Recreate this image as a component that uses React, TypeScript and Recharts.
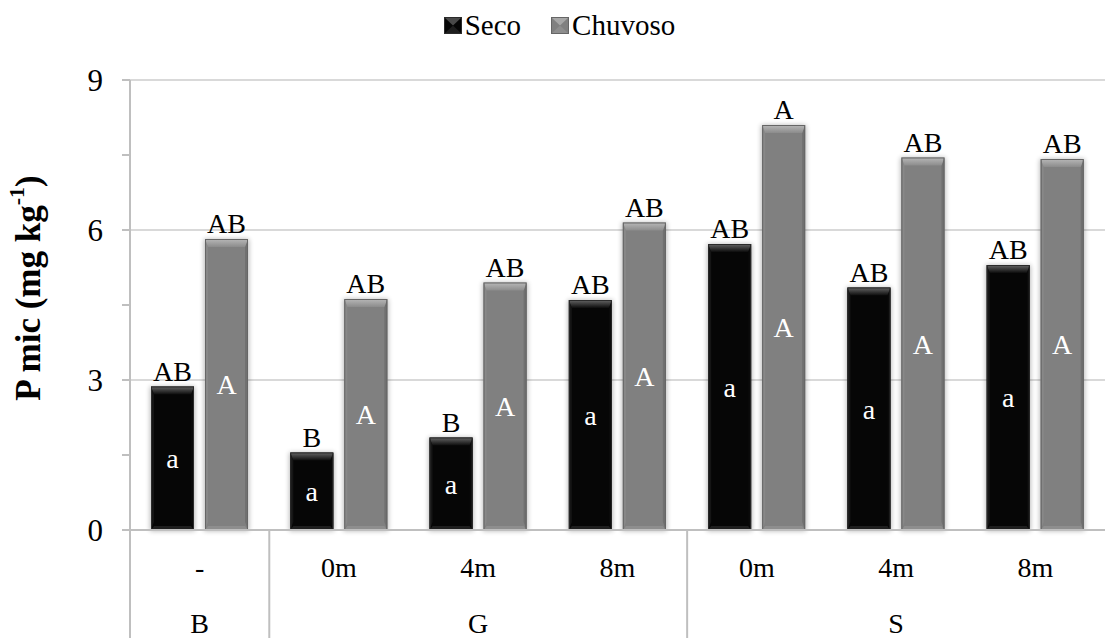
import React from 'react';
import { BarChart, Bar, XAxis, YAxis, CartesianGrid, Legend, LabelList } from 'recharts';

// categorias (sub-nível e grupo)
const subLabels = ['-', '0m', '4m', '8m', '0m', '4m', '8m'];
const groupLabels = ['B', 'G', 'G', 'G', 'S', 'S', 'S'];

// valores
const seco = [2.87, 1.55, 1.85, 4.6, 5.72, 4.85, 5.3];
const chuvoso = [5.82, 4.62, 4.95, 6.15, 8.1, 7.45, 7.42];

// letras das comparações
const secoTop = ['AB', 'B', 'B', 'AB', 'AB', 'AB', 'AB'];
const chuvosoTop = ['AB', 'AB', 'AB', 'AB', 'A', 'AB', 'AB'];
const secoIn = ['a', 'a', 'a', 'a', 'a', 'a', 'a'];
const chuvosoIn = ['A', 'A', 'A', 'A', 'A', 'A', 'A'];

const yTicks = [0, 1.5, 3, 4.5, 6, 7.5, 9];
const gridValues = [3, 6, 9];

const data = subLabels.map((s, i) => ({
  key: `${groupLabels[i]}|${s}`,
  seco: seco[i],
  chuvoso: chuvoso[i],
  secoTop: secoTop[i],
  chuvosoTop: chuvosoTop[i],
  secoIn: secoIn[i],
  chuvosoIn: chuvosoIn[i],
}));

const FONT = "'Liberation Serif', 'DejaVu Serif', 'Noto Serif', serif";
const AXIS = '#bfbfbf';

const palette: Record<string, any> = {
  seco: { base: '#060606', topA: '#666666', topB: '#0c0c0c', bottom: '#1e1e1e', left: '#151515', right: '#0a0a0a', edge: '#2b2b2b' },
  chuvoso: { base: '#808080', topA: '#b8b8b8', topB: '#8c8c8c', bottom: '#8e8e8e', left: '#888888', right: '#707070', edge: '#666666' },
};

const BevelBar = (props: any) => {
  const { x, y, width, height, dataKey } = props;
  if (!height || height <= 0) return null;
  const c = palette[dataKey];
  const b = Math.min(8, height / 2);
  const s = 3;
  const gid = `top-${dataKey}`;
  return (
    <g>
      <defs>
        <linearGradient id={gid} x1="0" y1="0" x2="0" y2="1">
          <stop offset="0%" stopColor={c.topA} />
          <stop offset="100%" stopColor={c.topB} />
        </linearGradient>
        <filter id="bshadow" x="-30%" y="-10%" width="160%" height="120%">
          <feGaussianBlur stdDeviation="2.5" />
        </filter>
      </defs>
      <rect x={x - 1} y={y} width={width + 2} height={height + 1} fill="#000" opacity={0.28} filter="url(#bshadow)" />
      <rect x={x} y={y} width={width} height={height} fill={c.base} />
      <polygon points={`${x},${y} ${x + s},${y + b} ${x + s},${y + height - b} ${x},${y + height}`} fill={c.left} />
      <polygon points={`${x + width},${y} ${x + width - s},${y + b} ${x + width - s},${y + height - b} ${x + width},${y + height}`} fill={c.right} />
      <polygon points={`${x},${y} ${x + width},${y} ${x + width - s},${y + b} ${x + s},${y + b}`} fill={`url(#${gid})`} />
      <polygon points={`${x},${y + height} ${x + width},${y + height} ${x + width - s},${y + height - b / 2} ${x + s},${y + height - b / 2}`} fill={c.bottom} />
      <rect x={x + 0.5} y={y + 0.5} width={width - 1} height={height - 1} fill="none" stroke={c.edge} strokeWidth={1} />
    </g>
  );
};

const XTick = (props: any) => {
  const { x, y, payload } = props;
  const i: number = payload.index;
  const half: number = payload.offset || 0;
  const band = half * 2;
  const g = groupLabels[i];
  const first = i === 0 || groupLabels[i - 1] !== g;
  const count = groupLabels.filter((v) => v === g).length;
  return (
    <g>
      <text x={x} y={y + 47} textAnchor="middle" fontSize={28} fill="#000" style={{ fontFamily: FONT }}>
        {subLabels[i]}
      </text>
      {first && (
        <>
          <line x1={x - half} y1={y} x2={x - half} y2={y + 120} stroke={AXIS} strokeWidth={2} />
          <text x={x - half + (count * band) / 2} y={y + 103} textAnchor="middle" fontSize={28} fill="#000" style={{ fontFamily: FONT }}>
            {g}
          </text>
        </>
      )}
    </g>
  );
};

const YTick = (props: any) => {
  const { x, y, payload } = props;
  const major = Number.isInteger(payload.value);
  return (
    <g>
      <line x1={x - 8} y1={y} x2={x} y2={y} stroke={AXIS} strokeWidth={2} />
      {major && (
        <text x={x - 27} y={y + 11} textAnchor="end" fontSize={31} fill="#000" style={{ fontFamily: FONT }}>
          {payload.value}
        </text>
      )}
    </g>
  );
};

const YLabel = (props: any) => {
  const vb = props.viewBox || { x: 0, y: 80, width: 130, height: 450 };
  const cx = vb.x + 28;
  const cy = vb.y + vb.height / 2 - 17;
  return (
    <text
      x={cx}
      y={cy}
      transform={`rotate(-90, ${cx}, ${cy})`}
      textAnchor="middle"
      dominantBaseline="central"
      fontSize={35}
      fontWeight="bold"
      style={{ fontFamily: FONT }}
      fill="#000"
    >
      P mic (mg kg<tspan dy={-12} fontSize={22}>-1</tspan>
      <tspan dy={12}>)</tspan>
    </text>
  );
};

const LegendSwatch = ({ k }: { k: string }) => {
  const c = palette[k];
  return (
    <svg width={18} height={17} style={{ marginRight: 3 }}>
      <rect x={0} y={0} width={18} height={17} fill={c.base} />
      <polygon points="0,0 18,0 9,8.5" fill={c.topA} opacity={0.7} />
      <polygon points="0,17 18,17 9,8.5" fill={c.bottom} />
      <rect x={0.5} y={0.5} width={17} height={16} fill="none" stroke={c.edge} />
    </svg>
  );
};

const LegendContent = () => (
  <div style={{ display: 'flex', justifyContent: 'center', alignItems: 'center', fontFamily: FONT, fontSize: 29, color: '#000', paddingLeft: 14 }}>
    <div style={{ display: 'flex', alignItems: 'center', marginRight: 30 }}>
      <LegendSwatch k="seco" />
      <span>Seco</span>
    </div>
    <div style={{ display: 'flex', alignItems: 'center' }}>
      <LegendSwatch k="chuvoso" />
      <span>Chuvoso</span>
    </div>
  </div>
);

export default function App() {
  return (
    <div style={{ position: 'absolute', left: 0, top: 0, width: 1105, height: 638, background: '#fff', fontFamily: FONT }}>
      <BarChart
        width={1105}
        height={638}
        data={data}
        margin={{ top: 80, right: 0, bottom: 0, left: 0 }}
        barSize={43}
        barGap={11}
        style={{ fontFamily: FONT }}
      >
        <CartesianGrid vertical={false} stroke="#d9d9d9" strokeWidth={2} horizontalValues={gridValues} />
        <XAxis
          dataKey="key"
          interval={0}
          height={108}
          tickLine={false}
          tickSize={0}
          tickMargin={0}
          axisLine={{ stroke: AXIS, strokeWidth: 2 }}
          tick={<XTick />}
        />
        <YAxis
          domain={[0, 9]}
          ticks={yTicks}
          interval={0}
          width={130}
          tickLine={false}
          tickSize={0}
          tickMargin={0}
          axisLine={{ stroke: AXIS, strokeWidth: 2 }}
          tick={<YTick />}
          label={<YLabel />}
        />
        <Legend
          verticalAlign="middle"
          align="center"
          layout="horizontal"
          wrapperStyle={{ top: 9, left: 0, width: 1105 }}
          content={<LegendContent />}
        />
        <Bar dataKey="seco" name="Seco" fill="#060606" shape={<BevelBar />} isAnimationActive={false}>
          <LabelList dataKey="secoTop" position="top" offset={6} fill="#000" fontSize={28} style={{ fontFamily: FONT }} />
          <LabelList dataKey="secoIn" position="center" fill="#fff" fontSize={28} style={{ fontFamily: FONT }} />
        </Bar>
        <Bar dataKey="chuvoso" name="Chuvoso" fill="#808080" shape={<BevelBar />} isAnimationActive={false}>
          <LabelList dataKey="chuvosoTop" position="top" offset={6} fill="#000" fontSize={28} style={{ fontFamily: FONT }} />
          <LabelList dataKey="chuvosoIn" position="center" fill="#fff" fontSize={28} style={{ fontFamily: FONT }} />
        </Bar>
      </BarChart>
    </div>
  );
}
